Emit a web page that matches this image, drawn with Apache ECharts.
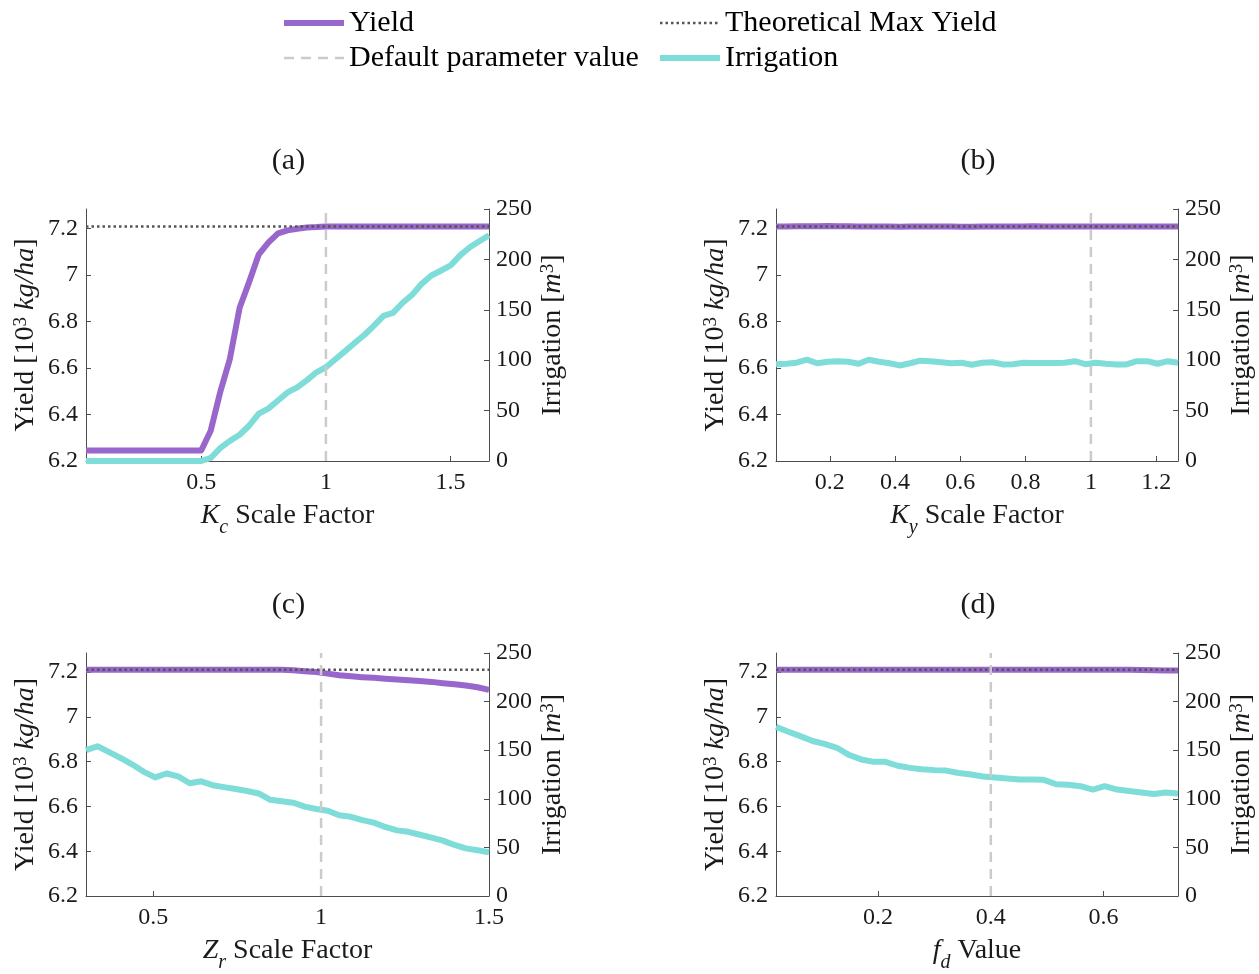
<!DOCTYPE html>
<html>
<head>
<meta charset="utf-8">
<script src="https://cdn.jsdelivr.net/npm/echarts@6/dist/echarts.min.js"></script>
<style>
  html, body { margin: 0; padding: 0; background: #ffffff; }
  #chart { width: 1259px; height: 974px; }
</style>
</head>
<body>
<div id="chart"></div>
<script>
// ---- data -------------------------------------------------------------
// (a) crop coefficient scale factor sweep
const kcX = [0.038,0.077,0.115,0.154,0.192,0.231,0.269,0.308,0.346,0.385,0.423,0.462,0.5,0.538,0.577,0.615,0.654,0.692,0.731,0.769,0.808,0.846,0.885,0.923,0.962,1,1.038,1.077,1.115,1.154,1.192,1.231,1.269,1.308,1.346,1.385,1.423,1.462,1.5,1.538,1.577,1.615,1.654];
const kcYield = [6.245,6.245,6.245,6.245,6.245,6.245,6.245,6.245,6.245,6.245,6.245,6.245,6.245,6.33,6.5,6.64,6.86,6.97,7.09,7.14,7.18,7.193,7.2,7.205,7.207,7.21,7.21,7.21,7.21,7.21,7.21,7.21,7.21,7.21,7.21,7.21,7.21,7.21,7.21,7.21,7.21,7.21,7.21];
const kcIrr = [0,0,0,0,0,0,0,0,0,0,0,0,0,3,13,20,26,35,47,52,60,68,73,80,88,93,101,109,117,125,134,144,147,157,165,176,184,189,194,204,212,218,224];

// (b) yield response factor scale sweep
const kyX = [0.035,0.067,0.098,0.13,0.161,0.193,0.225,0.256,0.288,0.319,0.351,0.383,0.414,0.446,0.477,0.509,0.541,0.572,0.604,0.635,0.667,0.699,0.73,0.762,0.793,0.825,0.857,0.888,0.92,0.951,0.983,1.015,1.046,1.078,1.109,1.141,1.173,1.204,1.236,1.267];
const kyYield = [7.21,7.21,7.211,7.211,7.211,7.212,7.211,7.211,7.21,7.21,7.21,7.21,7.209,7.21,7.21,7.21,7.21,7.21,7.209,7.209,7.21,7.21,7.21,7.21,7.21,7.211,7.21,7.21,7.21,7.21,7.21,7.21,7.21,7.21,7.21,7.21,7.21,7.21,7.21,7.21];
const kyIrr = [96,96.5,97.5,100.5,97,98.5,99,98.5,96.5,100.5,98.5,97,94.8,97,99.5,99,98,97,97.5,95.5,97.5,98,95.8,96,97.5,97.3,97.3,97.3,97.5,99,96,97.5,96.5,95.7,95.8,99,99,96.5,99,97.5];

// (c) root depth scale factor sweep
const zrX = [0.3,0.334,0.369,0.403,0.437,0.471,0.506,0.54,0.574,0.609,0.643,0.677,0.711,0.746,0.78,0.814,0.849,0.883,0.917,0.951,0.986,1.02,1.054,1.089,1.123,1.157,1.191,1.226,1.26,1.294,1.329,1.363,1.397,1.431,1.466,1.5];
const zrYield = [7.21,7.21,7.21,7.21,7.21,7.21,7.21,7.21,7.21,7.21,7.21,7.21,7.21,7.21,7.21,7.21,7.21,7.21,7.208,7.204,7.2,7.193,7.186,7.181,7.177,7.174,7.17,7.167,7.163,7.16,7.156,7.15,7.145,7.14,7.132,7.12];
const zrIrr = [150,154,148,142,135.5,128,122,126,123,116,118,114,112,110,108,105.5,99,97.5,96,92,89.5,87.8,83,81.5,78,75.5,71,67.5,66,63,60,57,52.5,49,47,45];

// (d) depletion fraction sweep
const fdX = [0.019,0.041,0.062,0.084,0.105,0.127,0.149,0.17,0.192,0.213,0.235,0.257,0.278,0.3,0.321,0.343,0.365,0.386,0.408,0.429,0.451,0.473,0.494,0.516,0.537,0.559,0.581,0.602,0.624,0.645,0.667,0.689,0.71,0.732];
const fdYield = [7.21,7.21,7.21,7.21,7.21,7.21,7.21,7.21,7.21,7.21,7.21,7.21,7.21,7.21,7.21,7.21,7.21,7.21,7.21,7.21,7.21,7.21,7.21,7.21,7.21,7.21,7.21,7.21,7.21,7.21,7.209,7.208,7.207,7.207];
const fdIrr = [174,169,164.5,159.5,156.5,152.5,145,140.5,138,138,134,131.8,130.5,129.5,129,126.5,125,123,122,121,119.8,119.8,119.5,115,114.5,113,109.5,113,109.5,108,106.5,105,106.5,105.5];

const maxYield = 7.21;
const defaultValues = [1, 1, 1, 0.4];
const panelLabels = ['(a)', '(b)', '(c)', '(d)'];
const xTicks = [[0.5, 1, 1.5], [0.2, 0.4, 0.6, 0.8, 1, 1.2], [0.5, 1, 1.5], [0.2, 0.4, 0.6]];
const yieldTicks = [6.2, 6.4, 6.6, 6.8, 7, 7.2];
const yieldRange = [6.2, 7.285];
const irrRange = [0, 250];
const irrStep = 50;

// axis titles (rich text for italics, sub- and superscripts)
const xNames = [
  '{it|K}{sub|c}{n| Scale Factor}',
  '{it|K}{sub|y}{n| Scale Factor}',
  '{it|Z}{sub|r}{n| Scale Factor}',
  '{it|f}{sub|d}{n| Value}'
];
const yieldName = '{n|Yield [10}{sup|3}{n| }{it|kg/ha}{n|]}';
const irrName = '{n|Irrigation [}{it|m}{sup|3}{n|]}';

const panels = [
  { x: kcX, y: kcYield, irr: kcIrr },
  { x: kyX, y: kyYield, irr: kyIrr },
  { x: zrX, y: zrYield, irr: zrIrr },
  { x: fdX, y: fdYield, irr: fdIrr }
];

// ---- styling ----------------------------------------------------------
const FONT = '"Liberation Serif", "DejaVu Serif", serif';
const TXT = '#1a1a1a';
const AXC = '#4d4d4d';
const PURPLE = '#9966cc';
const CYAN = '#7edcd9';
const DOT = '#555555';
const DASH = '#cbcbcb';
const TICK_SIZE = 24;

const NAME_SIZE = 28;
const rich = {
  n:   { fontFamily: FONT, fontSize: NAME_SIZE, color: TXT, verticalAlign: 'top', lineHeight: 30 },
  it:  { fontFamily: FONT, fontSize: NAME_SIZE, fontStyle: 'italic', color: TXT, verticalAlign: 'top', lineHeight: 30 },
  sup: { fontFamily: FONT, fontSize: 19, color: TXT, verticalAlign: 'top', lineHeight: 15 },
  sub: { fontFamily: FONT, fontSize: 20, fontStyle: 'italic', color: TXT, verticalAlign: 'top', lineHeight: 20, padding: [16, 0, 0, 0] }
};

const grids = [
  { left: 86,  top: 209, width: 403, height: 252 },
  { left: 776, top: 209, width: 402, height: 252 },
  { left: 86,  top: 653, width: 403, height: 252 },
  { left: 776, top: 653, width: 402, height: 252 }
];

const xAxes = [], yAxes = [], series = [], graphics = [];

panels.forEach((p, i) => {
  const xmin = p.x[0], xmax = p.x[p.x.length - 1];
  xAxes.push({
    type: 'value', gridIndex: i, min: xmin, max: xmax,
    name: xNames[i], nameLocation: 'middle', nameGap: 41,
    nameTextStyle: { rich: rich },
    axisLine: { show: true, onZero: false, lineStyle: { color: AXC, width: 1 } },
    axisTick: { show: true, inside: true, length: 5, customValues: xTicks[i], lineStyle: { color: AXC } },
    axisLabel: { customValues: xTicks[i], fontFamily: FONT, fontSize: TICK_SIZE, color: TXT, margin: 10 },
    splitLine: { show: false }
  });
  yAxes.push({
    type: 'value', gridIndex: i, position: 'left', min: yieldRange[0], max: yieldRange[1],
    name: yieldName, nameLocation: 'middle', nameRotate: 90, nameGap: 44,
    nameTextStyle: { rich: rich },
    axisLine: { show: true, onZero: false, lineStyle: { color: AXC, width: 1 } },
    axisTick: { show: true, inside: true, length: 5, customValues: yieldTicks, lineStyle: { color: AXC } },
    axisLabel: { customValues: yieldTicks, fontFamily: FONT, fontSize: TICK_SIZE, color: TXT, margin: 8 },
    splitLine: { show: false }
  });
  yAxes.push({
    type: 'value', gridIndex: i, position: 'right', min: irrRange[0], max: irrRange[1], interval: irrStep,
    name: irrName, nameLocation: 'middle', nameRotate: 90, nameGap: 50,
    nameTextStyle: { rich: rich },
    axisLine: { show: true, onZero: false, lineStyle: { color: AXC, width: 1 } },
    axisTick: { show: true, inside: true, length: 5, lineStyle: { color: AXC } },
    axisLabel: { fontFamily: FONT, fontSize: TICK_SIZE, color: TXT, margin: 7 },
    splitLine: { show: false }
  });

  const base = { type: 'line', xAxisIndex: i, symbol: 'none', silent: true, animation: false, clip: true };
  series.push(Object.assign({}, base, {
    name: 'Yield', yAxisIndex: 2 * i, z: 2,
    data: p.x.map((x, k) => [x, p.y[k]]),
    lineStyle: { color: PURPLE, width: 6, join: 'round' }, itemStyle: { color: PURPLE }
  }));
  series.push(Object.assign({}, base, {
    name: 'Irrigation', yAxisIndex: 2 * i + 1, z: 3,
    data: p.x.map((x, k) => [x, p.irr[k]]),
    lineStyle: { color: CYAN, width: 6, join: 'round' }, itemStyle: { color: CYAN }
  }));
  series.push(Object.assign({}, base, {
    name: 'Theoretical Max Yield', yAxisIndex: 2 * i, z: 4,
    data: [[xmin, maxYield], [xmax, maxYield]],
    lineStyle: { color: DOT, width: 2.5, type: [2.5, 3] }, itemStyle: { color: DOT }
  }));
  series.push(Object.assign({}, base, {
    name: 'Default parameter value', yAxisIndex: 2 * i, z: 5,
    data: [[defaultValues[i], yieldRange[0]], [defaultValues[i], yieldRange[1]]],
    lineStyle: { color: DASH, width: 2.5, type: [10, 7] }, itemStyle: { color: DASH }
  }));

  const g = grids[i];
  graphics.push({
    type: 'text', x: g.left + g.width / 2 + 1, y: g.top - 48,
    style: { text: panelLabels[i], align: 'center', verticalAlign: 'middle', font: '30px ' + FONT, fill: TXT }
  });
});

const legendCommon = {
  orient: 'vertical', top: 8, padding: 0, itemWidth: 60, itemHeight: 14, itemGap: 5,
  textStyle: { fontFamily: FONT, fontSize: 30, color: '#000', lineHeight: 30 },
  itemStyle: { opacity: 0 },
  lineStyle: { width: 'inherit' },
  selectedMode: false
};

const option = {
  backgroundColor: '#ffffff',
  animation: false,
  grid: grids,
  xAxis: xAxes,
  yAxis: yAxes,
  legend: [
    Object.assign({}, legendCommon, { left: 281, data: ['Yield', 'Default parameter value'] }),
    Object.assign({}, legendCommon, { left: 657, data: ['Theoretical Max Yield', 'Irrigation'] })
  ],
  graphic: graphics,
  series: series
};

const chart = echarts.init(document.getElementById('chart'), null, { renderer: 'canvas' });
chart.setOption(option);
</script>
</body>
</html>
